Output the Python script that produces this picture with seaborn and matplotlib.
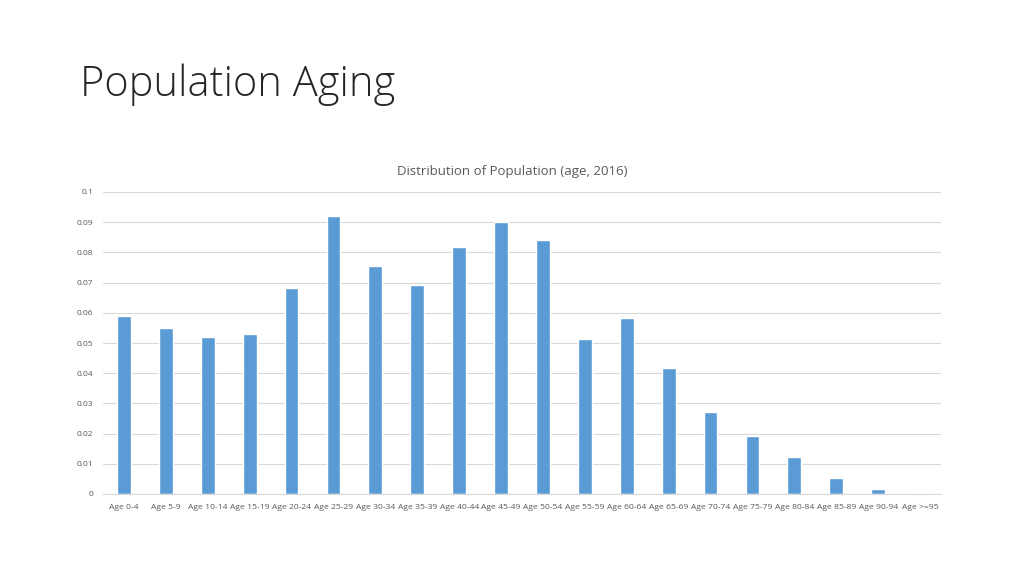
import matplotlib
matplotlib.use("Agg")
import pandas as pd
import seaborn as sns
import matplotlib.pyplot as plt

# Data
age_groups = ["Age 0-4", "Age 5-9", "Age 10-14", "Age 15-19", "Age 20-24",
              "Age 25-29", "Age 30-34", "Age 35-39", "Age 40-44", "Age 45-49",
              "Age 50-54", "Age 55-59", "Age 60-64", "Age 65-69", "Age 70-74",
              "Age 75-79", "Age 80-84", "Age 85-89", "Age 90-94", "Age >=95"]
share = [0.0589, 0.0549, 0.0520, 0.0530, 0.0681,
         0.0919, 0.0754, 0.0693, 0.0817, 0.0901,
         0.0842, 0.0513, 0.0582, 0.0416, 0.0272,
         0.0193, 0.0122, 0.0054, 0.0015, 0.0004]
y_ticks = [0, 0.01, 0.02, 0.03, 0.04, 0.05, 0.06, 0.07, 0.08, 0.09, 0.1]
y_tick_labels = ["0", "0.01", "0.02", "0.03", "0.04", "0.05",
                 "0.06", "0.07", "0.08", "0.09", "0.1"]

df = pd.DataFrame({"Age": age_groups, "Share": share})

sns.set_theme(style="white")
plt.rcParams["font.family"] = ["Open Sans", "DejaVu Sans"]

fig = plt.figure(figsize=(10.24, 5.76), dpi=100)
ax = fig.add_axes([103 / 1024, 1 - 494 / 576, 838 / 1024, 302 / 576])

sns.barplot(data=df, x="Age", y="Share", color="#5B9BD5", width=0.33,
            saturation=1, ax=ax)

ax.set_ylim(0, 0.1)
ax.set_xlim(-0.5, len(age_groups) - 0.5)
ax.set_yticks(y_ticks)
ax.set_yticklabels(y_tick_labels)
ax.yaxis.grid(True, color="#D9D9D9", linewidth=0.8)
ax.set_axisbelow(True)
ax.set_xlabel("")
ax.set_ylabel("")
for side in ["top", "right", "left"]:
    ax.spines[side].set_visible(False)
ax.spines["bottom"].set_color("#D9D9D9")
ax.spines["bottom"].set_linewidth(0.8)
ax.tick_params(axis="both", length=0, colors="#595959", labelsize=6.1)
ax.tick_params(axis="y", pad=7)
ax.tick_params(axis="x", pad=7)

# Slide title and chart title
fig.text(80 / 1024, 1 - 85 / 576, "Population Aging", fontsize=30,
         color="#262626", va="center", ha="left", fontweight="light")
fig.text(512 / 1024, 1 - 171 / 576, "Distribution of Population (age, 2016)",
         fontsize=9.5, color="#595959", va="center", ha="center")

fig.savefig("out.png", dpi=100)
plt.close()
